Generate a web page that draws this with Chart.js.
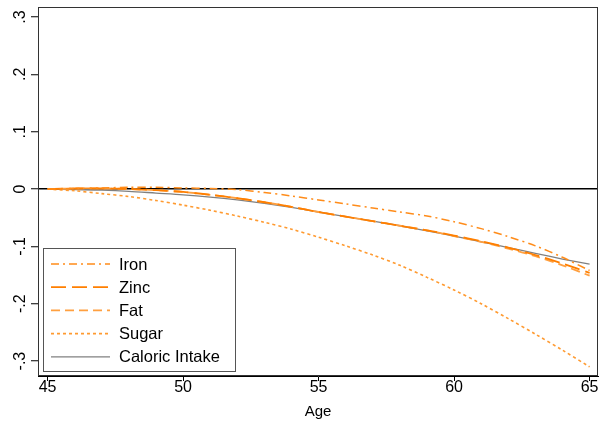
<!DOCTYPE html>
<html>
<head>
<meta charset="utf-8">
<script src="https://cdn.jsdelivr.net/npm/chart.js@4.4.1/dist/chart.umd.min.js"></script>
<style>
    body { margin: 0; background: #fff; }
    #wrap { width: 608px; height: 421px; position: relative; }
</style>
</head>
<body>
<div id="wrap"><canvas id="ageChart"></canvas></div>
<script>
// values, one per year of age
const ages = [45, 46, 47, 48, 49, 50, 51, 52, 53, 54, 55, 56, 57, 58, 59, 60, 61, 62, 63, 64, 65];
const iron = [0, 0.001, 0.002, 0.003, 0.003, 0.002, 0.001, -0.001, -0.006, -0.012, -0.019, -0.026, -0.033, -0.040, -0.047, -0.057, -0.069, -0.083, -0.099, -0.119, -0.142];
const zinc = [0, 0.001, 0.001, 0, -0.002, -0.005, -0.010, -0.016, -0.023, -0.031, -0.040, -0.048, -0.056, -0.064, -0.072, -0.081, -0.091, -0.102, -0.115, -0.130, -0.146];
const fat = [0, 0.001, 0.001, 0, -0.002, -0.005, -0.010, -0.016, -0.023, -0.031, -0.040, -0.048, -0.056, -0.064, -0.072, -0.082, -0.092, -0.104, -0.117, -0.133, -0.151];
const sugar = [0, -0.003, -0.008, -0.013, -0.020, -0.028, -0.037, -0.047, -0.058, -0.070, -0.084, -0.099, -0.115, -0.133, -0.154, -0.176, -0.200, -0.226, -0.253, -0.281, -0.310];
const caloric = [0, -0.001, -0.002, -0.004, -0.007, -0.010, -0.014, -0.019, -0.025, -0.032, -0.040, -0.048, -0.056, -0.064, -0.073, -0.082, -0.092, -0.102, -0.112, -0.122, -0.131];

const xTicks = [45, 50, 55, 60, 65];
const yTicks = [-0.3, -0.2, -0.1, 0, 0.1, 0.2, 0.3];

function points(values) {
    return ages.map((a, i) => ({ x: a, y: values[i] }));
}

function fmtY(v) {
    if (v === 0) return '0';
    const s = String(Math.round(v * 10) / 10);
    return s.replace('0.', '.');
}

// Stata style legend box in the lower left of the plot
const boxLegend = {
    id: 'boxLegend',
    afterDraw(chart) {
        const ctx = chart.ctx;
        const x0 = 43, y0 = 248, w = 192, h = 123;
        ctx.save();
        ctx.fillStyle = '#fff';
        ctx.fillRect(x0, y0, w, h);
        ctx.strokeStyle = '#555';
        ctx.lineWidth = 1;
        ctx.strokeRect(x0 + 0.5, y0 + 0.5, w, h);
        ctx.font = '16.5px "Liberation Sans", Arial, sans-serif';
        ctx.textBaseline = 'middle';
        ctx.fillStyle = '#000';
        chart.data.datasets.forEach((ds, i) => {
            const y = 264 + i * 23.2;
            ctx.beginPath();
            ctx.strokeStyle = ds.borderColor;
            ctx.lineWidth = ds.borderWidth;
            ctx.setLineDash(ds.borderDash || []);
            ctx.moveTo(51, y);
            ctx.lineTo(110, y);
            ctx.stroke();
            ctx.setLineDash([]);
            ctx.fillText(ds.label, 119, y + 1);
        });
        ctx.restore();
    }
};

// outline round the plot region
const frame = {
    id: 'frame',
    afterDraw(chart) {
        const a = chart.chartArea;
        const ctx = chart.ctx;
        ctx.save();
        ctx.strokeStyle = '#333';
        ctx.lineWidth = 1;
        ctx.strokeRect(Math.round(a.left) + 0.5, Math.round(a.top) + 0.5,
            Math.round(a.right - a.left) - 1, Math.round(a.bottom - a.top) - 1);
        ctx.restore();
    }
};

document.addEventListener('DOMContentLoaded', function() {
    const ctx = document.getElementById('ageChart').getContext('2d');
    Chart.defaults.font.family = '"Liberation Sans", Arial, sans-serif';
    Chart.defaults.color = '#000';

    new Chart(ctx, {
        type: 'line',
        data: {
            datasets: [
                { label: 'Iron', data: points(iron), borderColor: '#ff8c1a', borderWidth: 1.5, borderDash: [8, 4, 2, 4] },
                { label: 'Zinc', data: points(zinc), borderColor: '#ff7f00', borderWidth: 1.8, borderDash: [15, 6] },
                { label: 'Fat', data: points(fat), borderColor: '#ffa040', borderWidth: 1.8, borderDash: [9, 5] },
                { label: 'Sugar', data: points(sugar), borderColor: '#ff9a30', borderWidth: 1.6, borderDash: [3, 3] },
                { label: 'Caloric Intake', data: points(caloric), borderColor: '#808080', borderWidth: 1.3, borderDash: [] }
            ]
        },
        options: {
            responsive: true,
            maintainAspectRatio: false,
            animation: false,
            layout: { padding: { left: 0, top: 7, right: 10, bottom: 0 } },
            elements: {
                point: { radius: 0 },
                line: { tension: 0.3, fill: false }
            },
            plugins: {
                legend: { display: false },
                tooltip: { enabled: false }
            },
            scales: {
                x: {
                    type: 'linear',
                    min: 44.645,
                    max: 65.31,
                    afterBuildTicks: scale => { scale.ticks = xTicks.map(v => ({ value: v })); },
                    afterFit: scale => { scale.height = 45; scale.paddingLeft = 0; scale.paddingRight = 0; },
                    border: { color: '#000', width: 1 },
                    grid: { drawOnChartArea: false, tickLength: 5, tickColor: '#000' },
                    ticks: { font: { size: 16 }, padding: -3, maxRotation: 0 },
                    title: { display: true, text: 'Age', font: { size: 15 }, padding: { top: 0, bottom: 0 } }
                },
                y: {
                    type: 'linear',
                    min: -0.326,
                    max: 0.3175,
                    afterBuildTicks: scale => { scale.ticks = yTicks.map(v => ({ value: v })); },
                    afterFit: scale => { scale.width = 38; scale.paddingTop = 0; scale.paddingBottom = 0; },
                    border: { color: '#000', width: 1 },
                    grid: {
                        color: c => (c.tick && c.tick.value === 0 ? '#000' : 'rgba(0,0,0,0)'),
                        lineWidth: 1.5,
                        tickColor: '#000',
                        tickWidth: 1,
                        tickLength: 7
                    },
                    ticks: {
                        font: { size: 16 },
                        minRotation: 90,
                        maxRotation: 90,
                        crossAlign: 'center',
                        padding: 1,
                        callback: v => fmtY(v)
                    }
                }
            }
        },
        plugins: [frame, boxLegend]
    });
});
</script>
</body>
</html>
